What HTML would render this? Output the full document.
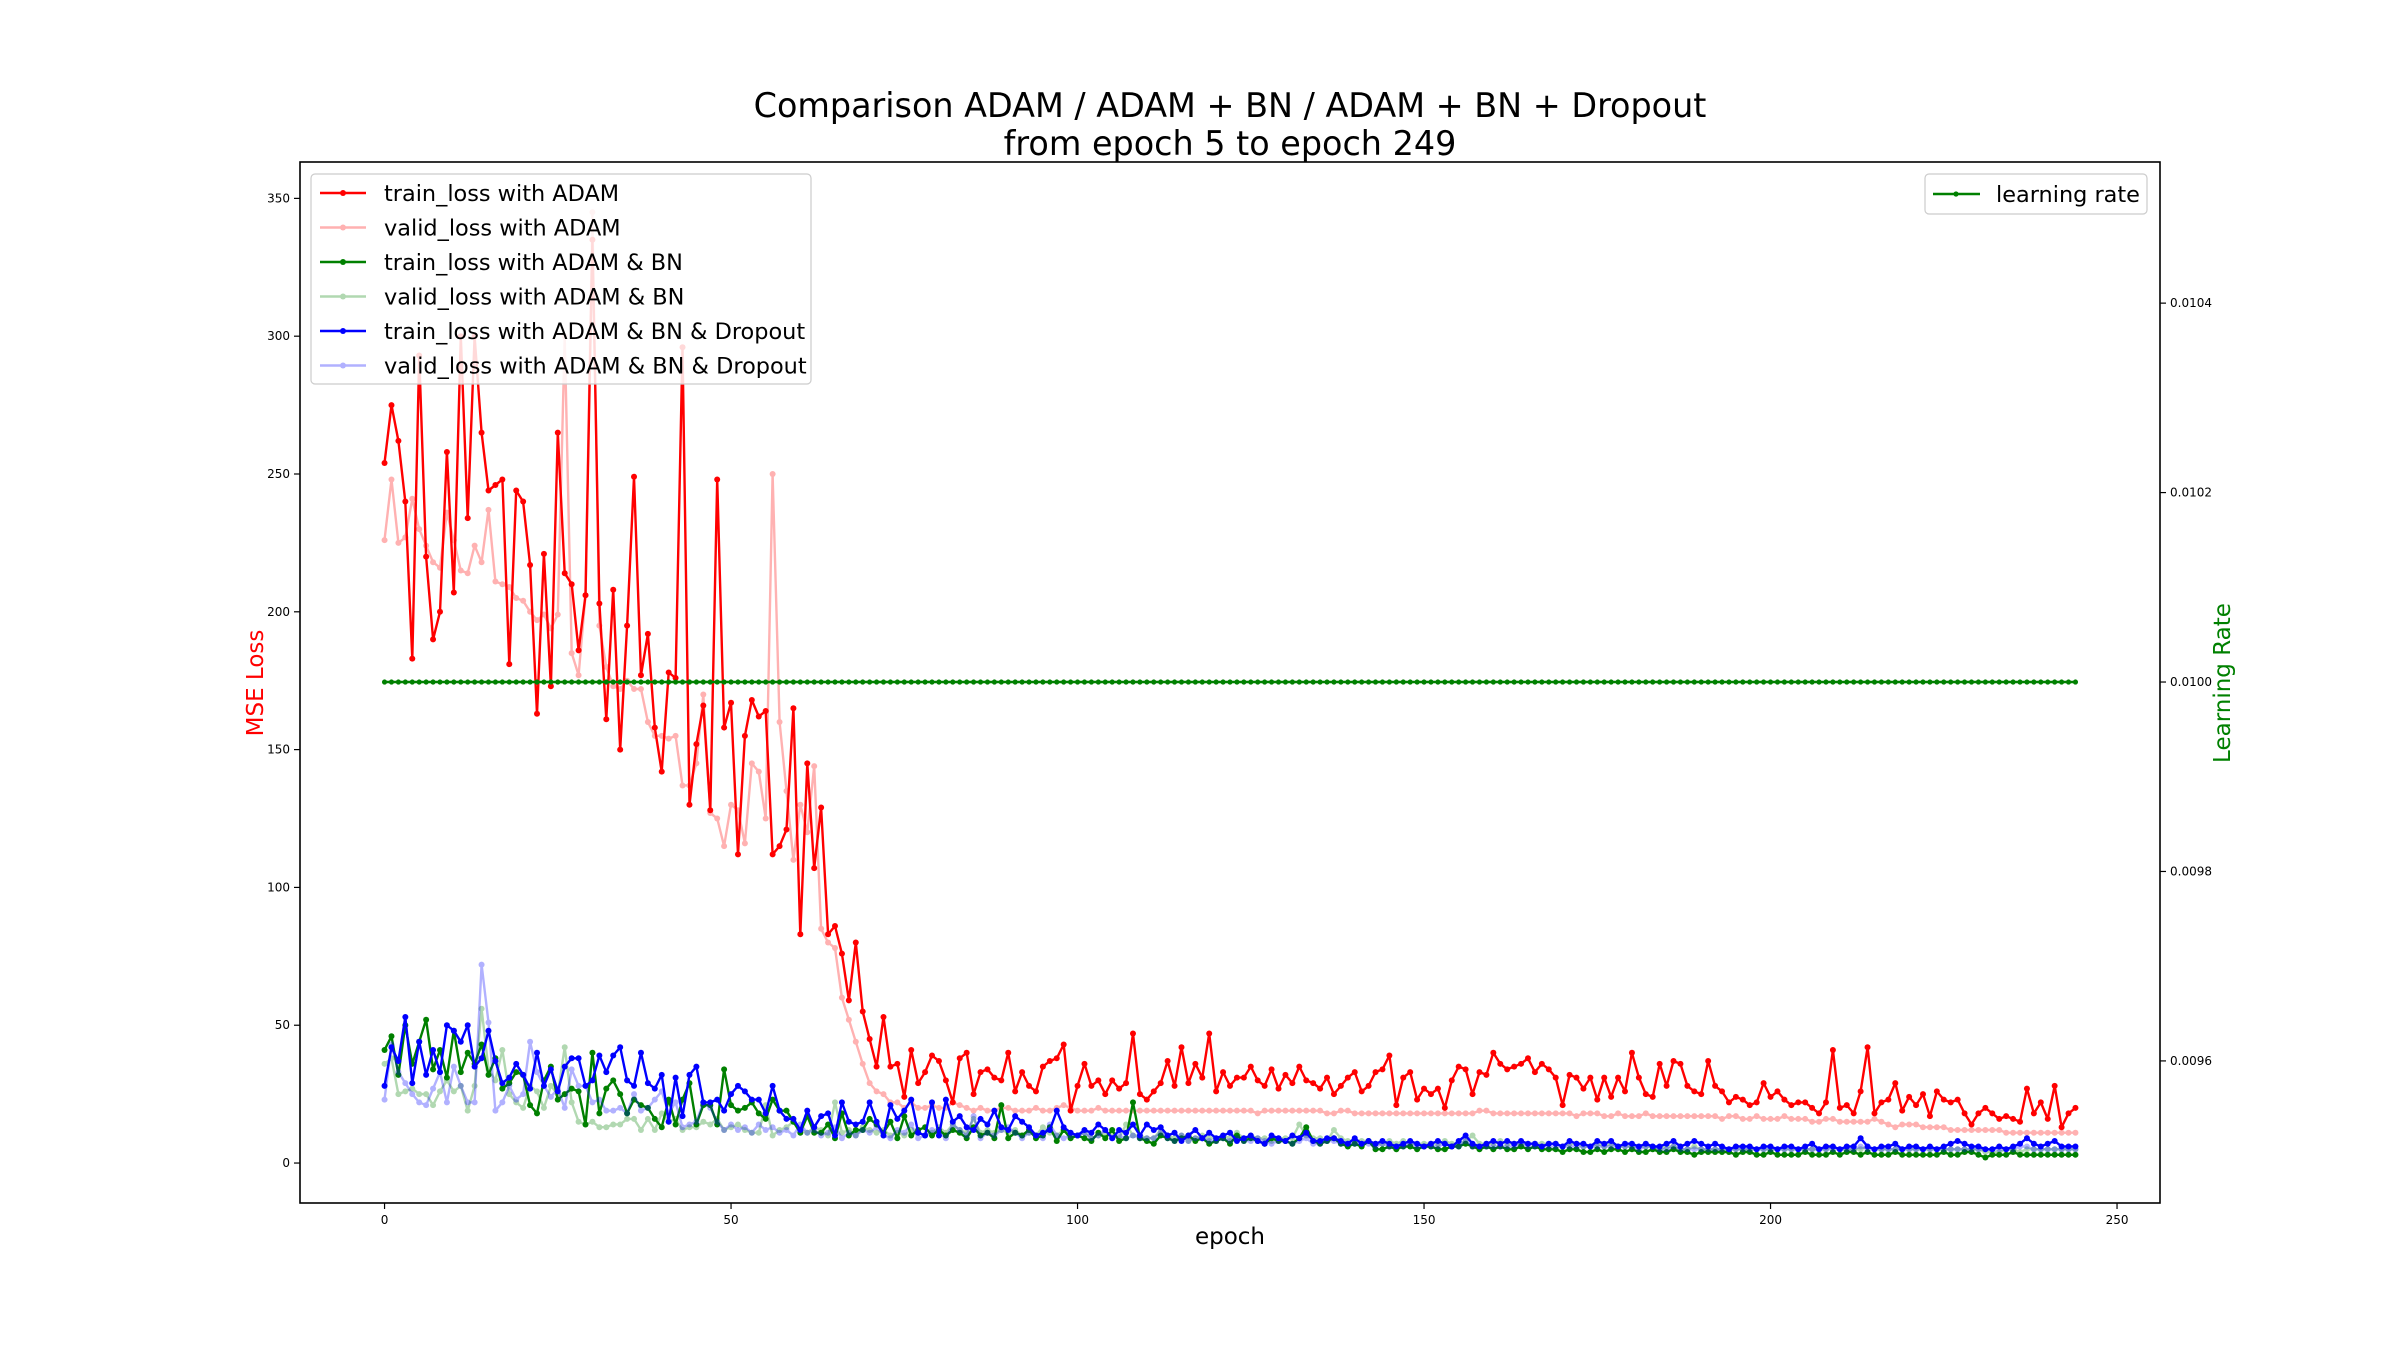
<!DOCTYPE html>
<html><head><meta charset="utf-8"><style>
html,body{margin:0;padding:0;background:#fff;}
svg{display:block;font-family:"DejaVu Sans","Liberation Sans",sans-serif;}
</style></head><body>
<svg id="chart" width="2400" height="1351" viewBox="0 0 2400 1351" xmlns="http://www.w3.org/2000/svg">
<rect width="2400" height="1351" fill="#fff"/>
<text x="1230" y="117" font-size="33.4" text-anchor="middle">Comparison ADAM / ADAM + BN / ADAM + BN + Dropout</text>
<text x="1230" y="155" font-size="33.4" text-anchor="middle">from epoch 5 to epoch 249</text>
<g id="plot"></g>
<text transform="translate(263,683) rotate(-90)" font-size="23" fill="red" text-anchor="middle">MSE Loss</text>
<text transform="translate(2230,683) rotate(-90)" font-size="23" fill="green" text-anchor="middle">Learning Rate</text>
<text x="1230" y="1244" font-size="23" text-anchor="middle">epoch</text>
</svg>
<script>
const redTrain=[254,275,262,240,183,293,220,190,200,258,207,300,234,300,265,244,246,248,181,244,240,217,163,221,173,265,214,210,186,206,335,203,161,208,150,195,249,177,192,158,142,178,176,296,130,152,166,128,248,158,167,112,155,168,162,164,112,115,121,165,83,145,107,129,83,86,76,59,80,55,45,35,53,35,36,24,41,29,33,39,
37,30,22,38,40,25,33,34,31,30,40,26,33,28,26,35,37,38,43,19,28,36,28,30,25,30,27,29,47,25,23,26,29,37,28,42,29,36,31,47,26,33,28,31,31,35,30,28,34,27,32,29,35,30,29,27,31,25,28,31,33,26,28,33,34,39,21,31,33,23,27,25,27,20,30,35,34,25,33,32,40,36,34,35,36,38,33,36,34,31,21,32,31,27,31,23,31,24,31,26,40,31,25,24,36,28,37,36,28,26,25,37,28,26,22,24,23,21,22,29,24,26,23,21,22,22,20,18,22,41,20,21,18,26,42,18,22,23,29,19,24,21,25,17,26,23,22,23,18,14,18,20,18,16,17,16,15,27,18,22,16,28,13,18,20];
const redValid=[226,248,225,227,241,230,224,218,216,236,226,215,214,224,218,237,211,210,209,205,204,200,197,199,194,199,300,185,177,206,345,195,180,173,172,175,172,172,160,155,155,154,155,137,137,145,170,127,125,115,130,128,116,145,142,125,250,160,135,110,130,120,144,85,80,78,60,52,44,36,29,26,25,22,22,20,22,20,20,21,
20,20,22,21,20,19,20,19,19,20,20,19,19,19,20,19,19,20,21,20,19,19,19,20,19,19,19,19,19,19,19,19,19,19,19,19,19,19,19,19,19,19,19,19,19,19,18,19,19,19,19,19,19,19,19,19,18,18,19,19,18,18,18,18,18,18,18,18,18,18,18,18,18,18,18,18,18,18,19,19,18,18,18,18,18,18,18,18,18,18,18,18,17,18,18,18,17,17,18,17,17,17,18,17,17,17,17,17,17,17,17,17,17,16,17,17,16,16,17,16,16,16,17,16,16,16,15,15,16,16,15,15,15,15,15,16,15,14,13,14,14,14,13,13,13,13,12,12,12,12,12,12,12,12,11,11,11,11,11,11,11,11,11,11,11];
const greenTrain=[41,46,32,50,36,44,52,34,41,31,48,33,40,36,43,32,38,27,29,33,32,21,18,30,35,23,25,27,26,14,40,18,27,30,25,18,23,21,20,16,13,23,14,23,29,14,21,21,14,34,21,19,20,22,18,16,23,19,19,15,11,17,11,11,14,9,18,10,12,12,16,14,11,15,9,17,10,12,13,10,
12,10,12,11,9,13,10,11,9,21,9,11,10,12,9,10,13,8,12,9,10,9,8,11,9,12,8,9,22,9,8,7,10,9,8,9,10,8,9,7,8,9,7,10,8,9,8,7,9,8,8,7,9,13,8,7,8,9,7,6,7,6,8,5,5,6,5,6,6,5,6,6,5,5,6,6,7,6,5,6,5,6,5,5,6,5,6,5,5,5,4,5,5,4,4,5,4,5,5,4,5,4,4,5,4,4,5,4,4,3,4,4,4,4,4,3,4,4,3,3,4,3,3,3,3,4,3,3,3,4,3,4,4,3,4,3,3,3,4,3,3,3,3,3,3,4,3,3,4,4,3,2,3,3,3,4,3,3,3,3,3,3,3,3,3];
const greenValid=[36,38,25,26,27,25,25,21,26,30,26,28,19,28,56,34,30,41,25,22,20,28,26,20,28,25,42,22,15,14,15,13,13,14,14,16,16,12,16,12,18,15,16,12,13,13,15,14,16,12,13,14,12,11,11,21,10,12,13,15,12,11,13,12,10,22,11,12,10,13,12,11,12,10,11,10,12,11,10,11,
13,11,14,12,11,16,11,12,11,12,11,12,10,11,10,13,11,10,12,10,10,11,9,10,11,10,9,14,10,10,9,9,12,10,9,10,8,9,10,9,9,10,9,11,9,10,9,9,8,9,9,9,14,10,9,9,8,12,9,8,8,8,8,7,7,8,7,8,7,7,7,7,7,8,7,7,8,10,7,7,7,8,7,7,7,7,7,7,7,7,6,7,7,6,6,7,6,7,6,6,6,6,6,6,5,6,6,5,5,6,5,5,5,5,5,5,5,5,5,5,5,5,5,5,5,5,5,5,5,6,5,5,5,5,6,5,5,5,5,5,5,5,5,5,5,5,5,5,5,5,5,4,4,4,5,5,4,5,5,5,5,5,5,5,5];
const blueTrain=[28,42,37,53,29,44,32,41,33,50,48,44,50,35,38,48,37,29,31,36,32,27,40,28,34,26,35,38,38,28,30,39,33,39,42,30,28,40,29,27,32,15,31,17,32,35,22,22,23,19,25,28,26,23,23,18,28,19,16,16,12,19,13,17,18,10,22,15,14,15,22,15,10,21,16,19,23,11,10,22,
10,23,15,17,13,12,16,14,19,13,12,17,15,13,10,11,12,19,13,11,10,12,11,14,12,9,12,11,14,10,14,12,13,10,11,8,10,12,9,11,9,10,11,8,9,10,8,7,10,9,8,10,9,11,8,8,9,9,8,7,9,7,8,7,8,7,6,7,8,7,6,7,8,7,6,8,10,7,6,7,8,7,8,7,8,7,7,6,7,7,6,8,7,7,6,8,7,8,6,7,7,6,7,6,6,7,8,6,7,8,7,6,7,6,5,6,6,6,5,6,6,5,6,6,5,6,7,5,6,6,5,6,6,9,6,5,6,6,7,5,6,6,5,6,5,6,7,8,7,6,6,5,5,6,5,6,7,9,7,6,7,8,6,6,6];
const blueValid=[23,43,33,29,25,22,21,27,33,22,35,28,22,22,72,51,19,22,28,23,25,44,33,28,24,27,20,34,28,28,22,23,19,19,20,18,25,19,20,23,26,18,22,13,14,15,22,20,15,12,14,12,13,11,14,12,13,11,12,10,14,11,12,10,11,13,9,11,10,12,11,13,10,9,12,11,14,9,10,12,
11,9,14,12,10,17,9,11,10,12,13,11,9,11,10,9,14,10,9,10,10,11,9,10,12,9,10,9,10,9,9,9,11,9,8,10,8,9,9,8,8,9,8,9,8,8,9,8,7,8,8,7,8,9,7,7,8,8,7,7,7,7,7,6,7,6,6,6,7,6,6,6,6,7,6,6,8,6,6,6,6,6,6,6,7,6,6,6,6,6,6,6,6,6,6,6,6,6,6,6,6,5,6,6,5,5,6,5,5,5,5,5,5,5,5,5,5,5,5,5,5,5,5,5,5,5,5,5,5,5,5,5,5,6,5,5,5,5,5,5,5,5,5,5,5,5,5,5,5,5,5,5,5,5,5,5,6,6,5,5,5,5,5,5,5];
const learningRate=new Array(245).fill(0.01);
const xTicks=[0,50,100,150,200,250];
const yTicks=[0,50,100,150,200,250,300,350];
const y2Ticks=[0.0096,0.0098,0.0100,0.0102,0.0104];

const L=300,R=2160,T=162,B=1203;
const xmin=-12.2,xmax=256.2,ymin=-14.5,ymax=363.2,y2min=0.00945,y2max=0.010549;
const sx=v=>L+(v-xmin)/(xmax-xmin)*(R-L);
const sy=v=>B-(v-ymin)/(ymax-ymin)*(B-T);
const sy2=v=>B-(v-y2min)/(y2max-y2min)*(B-T);
const NS='http://www.w3.org/2000/svg';
const plot=document.getElementById('plot');
function mk(tag,attrs,parent){const e=document.createElementNS(NS,tag);for(const k in attrs)e.setAttribute(k,attrs[k]);(parent||plot).appendChild(e);return e;}

function series(vals,scale,color,op,w,r,name){
  const g=mk('g',{opacity:op});
  
  
  const pts=vals.map((v,i)=>sx(i).toFixed(1)+','+scale(v).toFixed(1)).join(' ');
  const pl=mk('polyline',{points:pts,fill:'none',stroke:color,'stroke-width':w,'stroke-linejoin':'round'},g);
  
  
  vals.forEach((v,i)=>{const c=mk('circle',{cx:sx(i),cy:scale(v),r:r,fill:color},g);
    
    });
}
series(redTrain,sy,'red',1,2.4,3,'train-loss-adam');
series(redValid,sy,'red',0.3,2.4,3,'valid-loss-adam');
series(greenTrain,sy,'green',1,2.4,3,'train-loss-adam-bn');
series(greenValid,sy,'green',0.3,2.4,3,'valid-loss-adam-bn');
series(blueTrain,sy,'blue',1,2.4,3,'train-loss-adam-bn-dropout');
series(blueValid,sy,'blue',0.3,2.4,3,'valid-loss-adam-bn-dropout');
series(learningRate,sy2,'green',1,2.4,2.6,'learning-rate-line');

const frame=mk('rect',{x:L,y:T,width:R-L,height:B-T,fill:'none',stroke:'#000','stroke-width':1.6});


xTicks.forEach(t=>{mk('line',{x1:sx(t),x2:sx(t),y1:B,y2:B+6,stroke:'#000','stroke-width':1.2});
  const tx=mk('text',{x:sx(t),y:B+21,'font-size':12,'text-anchor':'middle'});tx.textContent=t;
  
  });
yTicks.forEach(t=>{mk('line',{x1:L-6,x2:L,y1:sy(t),y2:sy(t),stroke:'#000','stroke-width':1.2});
  const tx=mk('text',{x:L-10,y:sy(t)+4,'font-size':12,'text-anchor':'end'});tx.textContent=t;
  
  });
y2Ticks.forEach(t=>{mk('line',{x1:R,x2:R+6,y1:sy2(t),y2:sy2(t),stroke:'#000','stroke-width':1.2});
  const tx=mk('text',{x:R+10,y:sy2(t)+4,'font-size':12,'text-anchor':'start'});tx.textContent=t.toFixed(4);
  
  });

const legendLabels=['train_loss with ADAM','valid_loss with ADAM','train_loss with ADAM & BN','valid_loss with ADAM & BN','train_loss with ADAM & BN & Dropout','valid_loss with ADAM & BN & Dropout'];
const legendColors=['red','red','green','green','blue','blue'];
const legendOps=[1,0.3,1,0.3,1,0.3];
const lg=mk('g',{});


mk('rect',{x:311,y:174,width:500,height:210,rx:4,fill:'#fff','fill-opacity':0.85,stroke:'#ccc','stroke-width':1.2},lg);
legendLabels.forEach((lab,i)=>{
  const y=193+i*34.5;
  const e=mk('g',{},lg);
  
  
  const h=mk('g',{opacity:legendOps[i]},e);
  mk('line',{x1:320,x2:366,y1:y,y2:y,stroke:legendColors[i],'stroke-width':2.4},h);
  mk('circle',{cx:343,cy:y,r:3,fill:legendColors[i]},h);
  const t=mk('text',{x:384,y:y+8,'font-size':22.4},e);t.textContent=lab;
});
const lg2=mk('g',{});


mk('rect',{x:1925,y:174,width:222,height:40,rx:4,fill:'#fff','fill-opacity':0.85,stroke:'#ccc','stroke-width':1.2},lg2);
mk('line',{x1:1933,x2:1980,y1:194,y2:194,stroke:'green','stroke-width':2.4},lg2);
mk('circle',{cx:1956,cy:194,r:2.6,fill:'green'},lg2);
const lt=mk('text',{x:1996,y:202,'font-size':22.4},lg2);lt.textContent='learning rate';
</script>
</body></html>
